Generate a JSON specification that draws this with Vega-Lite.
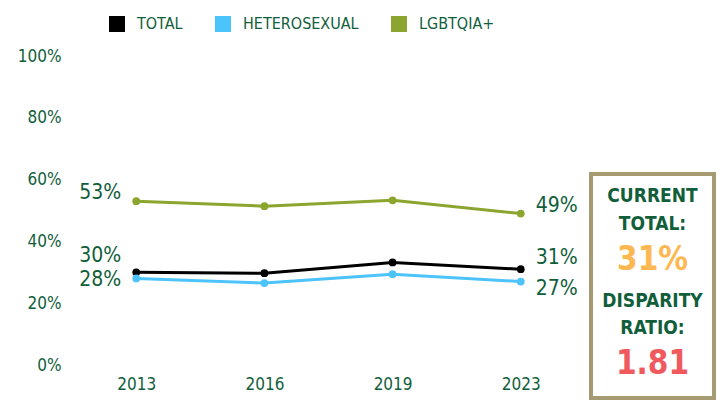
{
  "$schema": "https://vega.github.io/schema/vega-lite/v6.json",
  "padding": {"left": 17, "top": 16, "right": 2, "bottom": 0},
  "background": "white",
  "spacing": 8,
  "resolve": {"scale": {"color": "independent"}, "legend": {"color": "independent"}},
  "config": {
    "view": {"stroke": null},
    "font": "DejaVu Sans Condensed",
    "axis": {"labelFont": "DejaVu Sans Condensed", "labelColor": "#115E3B"},
    "legend": {"labelFont": "DejaVu Sans Condensed"},
    "text": {"font": "DejaVu Sans Condensed"}
  },
  "hconcat": [
    {
      "width": 505,
      "height": 309,
      "data": {
        "values": [
          {"series": "TOTAL", "year": "2013", "value": 0.30},
          {"series": "TOTAL", "year": "2016", "value": 0.297},
          {"series": "TOTAL", "year": "2019", "value": 0.332},
          {"series": "TOTAL", "year": "2023", "value": 0.31},
          {"series": "HETEROSEXUAL", "year": "2013", "value": 0.28},
          {"series": "HETEROSEXUAL", "year": "2016", "value": 0.265},
          {"series": "HETEROSEXUAL", "year": "2019", "value": 0.294},
          {"series": "HETEROSEXUAL", "year": "2023", "value": 0.27},
          {"series": "LGBTQIA+", "year": "2013", "value": 0.53},
          {"series": "LGBTQIA+", "year": "2016", "value": 0.514},
          {"series": "LGBTQIA+", "year": "2019", "value": 0.533},
          {"series": "LGBTQIA+", "year": "2023", "value": 0.49}
        ]
      },
      "encoding": {
        "x": {
          "field": "year", "type": "ordinal",
          "scale": {"type": "point", "padding": 0.47},
          "axis": {"title": null, "labelAngle": 0, "domain": false, "ticks": false, "labelFontSize": 17, "labelPadding": 11, "labelBaseline": "top"}
        },
        "y": {
          "field": "value", "type": "quantitative",
          "scale": {"domain": [0, 1]},
          "axis": {"title": null, "values": [0, 0.2, 0.4, 0.6, 0.8, 1], "format": ".0%", "domain": false, "ticks": false, "grid": false, "labelFontSize": 17, "labelPadding": 15}
        }
      },
      "layer": [
        {
          "mark": {"type": "point", "filled": true, "size": 60, "opacity": 1},
          "encoding": {
            "color": {
              "field": "series", "type": "nominal",
              "scale": {"domain": ["TOTAL", "HETEROSEXUAL", "LGBTQIA+"], "range": ["#000000", "#4CC3FA", "#8BA52E"]},
              "legend": {"title": null, "orient": "none", "legendX": 33, "legendY": -40, "direction": "horizontal", "symbolType": "square", "symbolSize": 256, "symbolStrokeWidth": 0, "symbolOpacity": 1, "labelFontSize": 16, "labelColor": "#115E3B", "columnPadding": 32, "labelOffset": 12}
            }
          }
        },
        {
          "mark": {"type": "line", "strokeWidth": 3},
          "encoding": {"color": {"field": "series", "type": "nominal"}}
        },
        {
          "transform": [{"filter": "datum.series == 'LGBTQIA+' && datum.year == '2013'"}],
          "mark": {"type": "text", "align": "right", "baseline": "middle", "dx": -15, "dy": -8, "fontSize": 21, "color": "#115E3B"},
          "encoding": {"text": {"field": "value", "format": ".0%"}}
        },
        {
          "transform": [{"filter": "datum.series == 'TOTAL' && datum.year == '2013'"}],
          "mark": {"type": "text", "align": "right", "baseline": "middle", "dx": -15, "dy": -16, "fontSize": 21, "color": "#115E3B"},
          "encoding": {"text": {"field": "value", "format": ".0%"}}
        },
        {
          "transform": [{"filter": "datum.series == 'HETEROSEXUAL' && datum.year == '2013'"}],
          "mark": {"type": "text", "align": "right", "baseline": "middle", "dx": -15, "dy": 2, "fontSize": 21, "color": "#115E3B"},
          "encoding": {"text": {"field": "value", "format": ".0%"}}
        },
        {
          "transform": [{"filter": "datum.series == 'LGBTQIA+' && datum.year == '2023'"}],
          "mark": {"type": "text", "align": "left", "baseline": "middle", "dx": 15, "dy": -8, "fontSize": 21, "color": "#115E3B"},
          "encoding": {"text": {"field": "value", "format": ".0%"}}
        },
        {
          "transform": [{"filter": "datum.series == 'TOTAL' && datum.year == '2023'"}],
          "mark": {"type": "text", "align": "left", "baseline": "middle", "dx": 15, "dy": -11, "fontSize": 21, "color": "#115E3B"},
          "encoding": {"text": {"field": "value", "format": ".0%"}}
        },
        {
          "transform": [{"filter": "datum.series == 'HETEROSEXUAL' && datum.year == '2023'"}],
          "mark": {"type": "text", "align": "left", "baseline": "middle", "dx": 15, "dy": 7, "fontSize": 21, "color": "#115E3B"},
          "encoding": {"text": {"field": "value", "format": ".0%"}}
        }
      ]
    },
    {
      "spacing": 0,
      "vconcat": [
        {
          "width": 123,
          "height": 116,
          "data": {"values": []},
          "mark": "text",
          "encoding": {}
        },
        {
          "width": 123,
          "height": 224,
          "view": {"stroke": "#A69A72", "strokeWidth": 4, "fill": "white"},
          "data": {
            "values": [
              {"metric": "CURRENT TOTAL", "line1": "CURRENT", "line2": "TOTAL:", "value": "31%"},
              {"metric": "DISPARITY RATIO", "line1": "DISPARITY", "line2": "RATIO:", "value": "1.81"}
            ]
          },
          "encoding": {
            "y": {"field": "metric", "type": "nominal", "sort": null, "scale": {"type": "point", "padding": 0.567}, "axis": null}
          },
          "layer": [
            {
              "mark": {"type": "text", "fontSize": 19, "fontWeight": "bold", "color": "#115E3B", "baseline": "middle", "dy": -37.5},
              "encoding": {"text": {"field": "line1"}}
            },
            {
              "mark": {"type": "text", "fontSize": 19, "fontWeight": "bold", "color": "#115E3B", "baseline": "middle", "dy": -10},
              "encoding": {"text": {"field": "line2"}}
            },
            {
              "mark": {"type": "text", "fontSize": 33, "fontWeight": "bold", "baseline": "middle", "dy": 26},
              "encoding": {
                "text": {"field": "value"},
                "color": {"field": "metric", "type": "nominal", "scale": {"domain": ["CURRENT TOTAL", "DISPARITY RATIO"], "range": ["#FDB851", "#F05A5E"]}, "legend": null}
              }
            }
          ]
        }
      ]
    }
  ]
}
